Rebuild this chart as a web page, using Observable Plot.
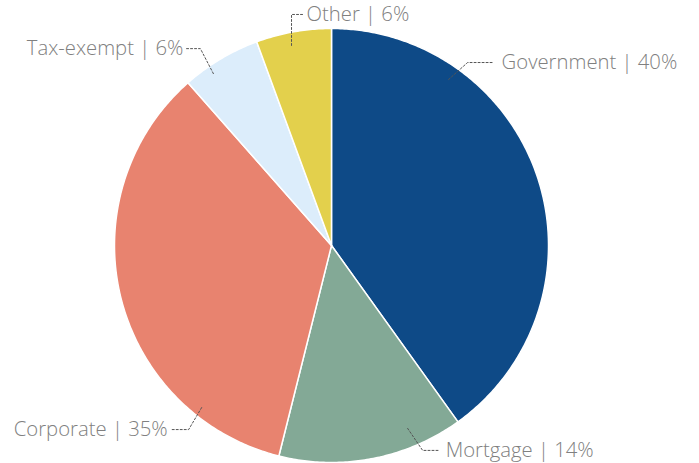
<!DOCTYPE html>
<html>
<head>
<meta charset="utf-8">
<script src="https://cdn.jsdelivr.net/npm/d3@7"></script>
<script src="https://cdn.jsdelivr.net/npm/@observablehq/plot@0.6"></script>
<style>
  html, body { margin: 0; padding: 0; background: #fff; }
  #chart svg { display: block; }
</style>
</head>
<body>
<div id="chart"></div>
<script>
// ---- data ----
const categories = ["Government", "Mortgage", "Corporate", "Tax-exempt", "Other"];
const values = [40.1, 13.8, 34.6, 5.9, 5.6];
const colors = ["#0e4a87", "#83a996", "#e8836f", "#dcedfb", "#e3d04c"];

// leader annotation layout (polar start on the pie, elbow offset, horizontal run, text side)
const leaderAngle = [35.2, 157.4, 218.7, 325.5, 348.7];
const leaderRadius = [0.936, 0.913, 0.957, 0.961, 0.940];
const elbowDx = [19, 15, -13, -13, 0];
const elbowDy = [-17, 22, 22, -25, -31];
const runDx = [25, 16, -17, -14, 12];
const textGap = [9, 7, 4, 3, 3];

// ---- geometry ----
const R = 217;
const total = d3.sum(values);
const pie = d3.pie().sort(null).value(d => d)(values);

const slicePts = [];
pie.forEach((a, i) => {
  const n = Math.max(8, Math.ceil((a.endAngle - a.startAngle) / 0.01));
  slicePts.push({cat: categories[i], x: 0, y: 0});
  for (let k = 0; k <= n; k++) {
    const t = a.startAngle + (a.endAngle - a.startAngle) * k / n;
    slicePts.push({cat: categories[i], x: Math.sin(t), y: Math.cos(t)});
  }
  slicePts.push({cat: categories[i], x: 0, y: 0});
});

const leaderPts = [];
const labels = [];
categories.forEach((c, i) => {
  const t = leaderAngle[i] * Math.PI / 180;
  const sx = leaderRadius[i] * Math.sin(t), sy = leaderRadius[i] * Math.cos(t);
  const ex = sx + elbowDx[i] / R, ey = sy - elbowDy[i] / R;
  const hx = ex + runDx[i] / R;
  leaderPts.push({cat: c, x: sx, y: sy}, {cat: c, x: ex, y: ey}, {cat: c, x: hx, y: ey});
  const right = runDx[i] > 0;
  labels.push({
    x: hx + (right ? 1 : -1) * textGap[i] / R,
    y: ey,
    text: `${c} | ${Math.round(values[i] / total * 100)}%`,
    anchor: right ? "start" : "end"
  });
});

const chart = Plot.plot({
  width: 699,
  height: 463,
  margin: 0,
  x: {domain: [-1, 1], range: [114, 548], axis: null},
  y: {domain: [-1, 1], range: [462, 28], axis: null},
  color: {domain: categories, range: colors},
  style: {fontFamily: "'Open Sans', Lato, sans-serif", background: "#fff"},
  marks: [
    Plot.line(slicePts, {x: "x", y: "y", z: "cat", fill: "cat", stroke: "#ffffff", strokeWidth: 1.5, strokeLinejoin: "round"}),
    Plot.line(leaderPts, {x: "x", y: "y", z: "cat", stroke: "#555", strokeWidth: 1, strokeDasharray: "2,2"}),
    Plot.text(labels.filter(d => d.anchor === "start"), {x: "x", y: "y", text: "text", textAnchor: "start", fontSize: 20.3, fontWeight: 300, fill: "#808080"}),
    Plot.text(labels.filter(d => d.anchor === "end"), {x: "x", y: "y", text: "text", textAnchor: "end", fontSize: 20.3, fontWeight: 300, fill: "#808080"})
  ]
});
document.getElementById("chart").appendChild(chart);
</script>
</body>
</html>
